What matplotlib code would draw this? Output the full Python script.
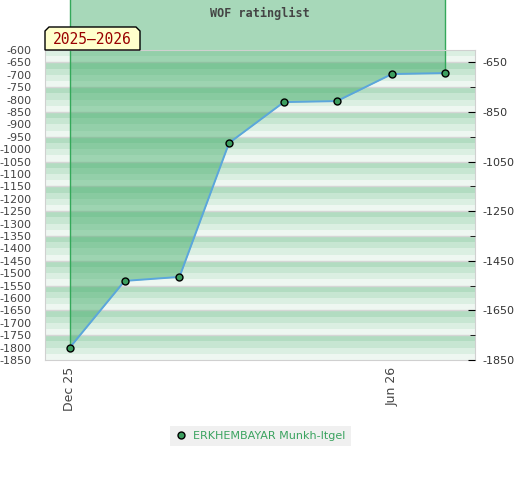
import datetime as dt

import matplotlib
matplotlib.use("Agg")
import matplotlib.pyplot as plt
import matplotlib.dates as mdates
from matplotlib.lines import Line2D
from matplotlib.patches import Polygon

# ---- data ----
dates = [dt.date(2025, 12, 1), dt.date(2026, 1, 1), dt.date(2026, 2, 1),
         dt.date(2026, 3, 1), dt.date(2026, 4, 1), dt.date(2026, 5, 1),
         dt.date(2026, 6, 1), dt.date(2026, 7, 1)]
rating = [-1800, -1531, -1515, -975, -810, -806, -697, -693]
player = "ERKHEMBAYAR Munkh-Itgel"
title = "WOF ratinglist"
season = "2025\u20132026"
xtick_dates = [dt.date(2025, 12, 1), dt.date(2026, 6, 1)]
xtick_labels = ["Dec 25", "Jun 26"]
left_ticks = list(range(-600, -1851, -50))
right_major = list(range(-650, -1851, -200))
right_minor = list(range(-750, -1851, -200))

plt.rcParams["axes.unicode_minus"] = False
plt.rcParams["font.family"] = "DejaVu Sans"

W, H = 520, 480
fig = plt.figure(figsize=(W / 100, H / 100), dpi=100, facecolor="white")
ax = fig.add_axes([45 / W, 1 - 360 / H, 430 / W, 310 / H])
ax.set_facecolor("white")

y_lo, y_hi = -1850, -600
ax.set_ylim(y_lo, y_hi)
ax.set_xlim(mdates.date2num(dt.date(2025, 11, 17)),
            mdates.date2num(dt.date(2026, 7, 18)))

# striped background: 100-unit bands, dark -> light from top
shades = ["#b2dcc1", "#c7e6d2", "#dbefe2", "#eef7f1"]
top = -550
while top > y_lo:
    for i, c in enumerate(shades):
        ax.axhspan(top - 25 * (i + 1), top - 25 * i, color=c, lw=0, zorder=0)
    ax.axhline(top, color="#d6d6d6", lw=1, zorder=0.5)
    top -= 100

xn = mdates.date2num(dates)
fill_top = -380
green = "#3caa64"
poly = ax.fill_between(xn, rating, fill_top, color=green, alpha=0.45,
                       lw=0, zorder=1)
poly.set_clip_on(False)
for xv, yv in [(xn[0], rating[0]), (xn[-1], rating[-1])]:
    ax.plot([xv, xv], [yv, fill_top], color="#34a85a", lw=1, zorder=1.5,
            clip_on=False)

ax.plot(xn, rating, color="#5ba6dc", lw=1.4, zorder=2)
ax.plot(xn, rating, "o", ms=5, mfc="#3c9e5f", mec="black", mew=1, zorder=3)

# axes styling
for s in ax.spines.values():
    s.set_color("#d0d0d0")
ax.set_yticks(left_ticks)
ax.set_yticklabels([str(v) for v in left_ticks])
ax.tick_params(axis="y", length=0, pad=10, labelsize=8, labelcolor="#444444")
ax.set_xticks(mdates.date2num(xtick_dates))
ax.set_xticklabels(xtick_labels, rotation=90)
ax.tick_params(axis="x", length=0, pad=5, labelsize=9, labelcolor="#444444")

ax2 = ax.twinx()
ax2.set_ylim(y_lo, y_hi)
ax2.set_yticks(right_major)
ax2.set_yticklabels([str(v) for v in right_major])
ax2.set_yticks(right_minor, minor=True)
ax2.tick_params(axis="y", which="major", direction="in", length=5,
                color="black", pad=5.5, labelsize=8, labelcolor="#333333")
ax2.tick_params(axis="y", which="minor", direction="in", length=3.5,
                color="black")
for s in ax2.spines.values():
    s.set_visible(False)

# title and season tag
fig.text(260 / W, 1 - 13 / H, title, ha="center", va="center",
         family="DejaVu Sans Mono", fontweight="bold", fontsize=8.5,
         color="#444444")
bx0, bx1, by0, by1, cut = 45, 140, 27, 50, 4
pts = [(bx0, by1), (bx0, by0 + cut), (bx0 + cut, by0), (bx1 - cut, by0),
       (bx1, by0 + cut), (bx1, by1)]
tag = Polygon([(x / W, 1 - y / H) for x, y in pts], closed=True,
              transform=fig.transFigure, facecolor="#ffffcc",
              edgecolor="black", lw=1, zorder=5)
fig.patches.append(tag)
fig.text(92 / W, 1 - 40 / H, season, ha="center", va="center",
         family="DejaVu Sans Mono", fontsize=10.5, color="#990000", zorder=6)

# legend
handle = Line2D([], [], ls="none", marker="o", ms=5, mfc="#3c9e5f",
                mec="black", mew=1)
leg = fig.legend([handle], [player], loc="center",
                 bbox_to_anchor=(260.5 / W, 1 - 436 / H), frameon=True,
                 fancybox=False, facecolor="#f0f0f0", edgecolor="none",
                 framealpha=1, fontsize=8, handlelength=1, handletextpad=0.6,
                 borderpad=0.45)
for t in leg.get_texts():
    t.set_color("#3aa35f")

fig.savefig("out.png", dpi=100, facecolor="white")
